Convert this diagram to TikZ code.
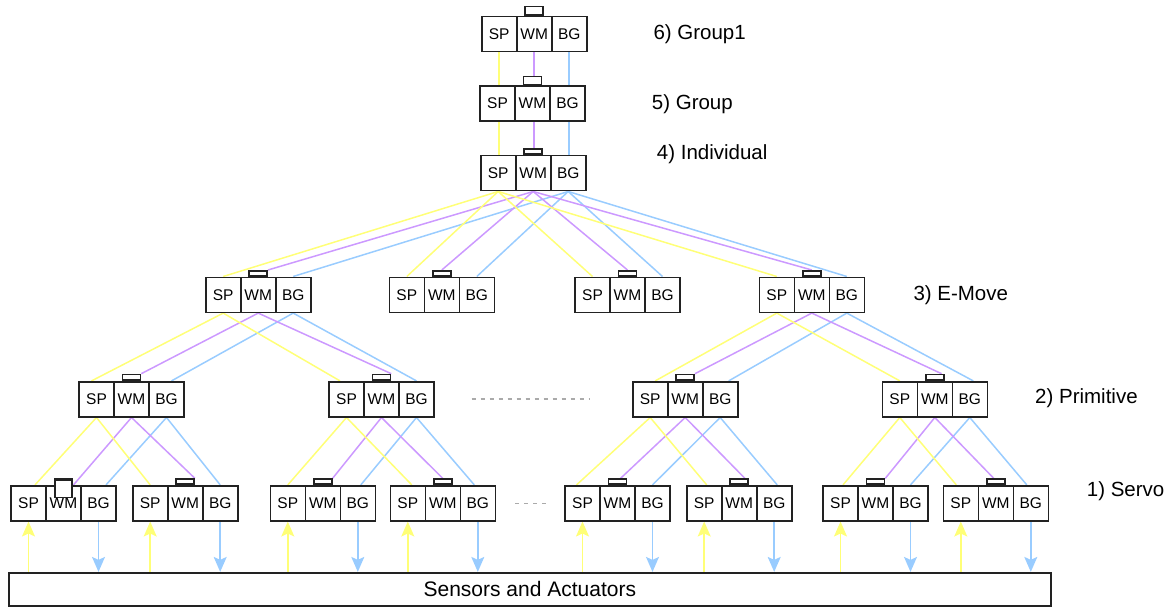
\documentclass[tikz,border=0pt]{standalone}
\usepackage{fontspec}
\setmainfont{Liberation Sans}
\usetikzlibrary{arrows.meta,calc}
\definecolor{spcol}{HTML}{FFFF77}
\definecolor{wmcol}{HTML}{CC99FF}
\definecolor{bgcol}{HTML}{99CCFF}
\definecolor{edgecol}{HTML}{222222}
\definecolor{dotcol}{HTML}{AAAAAA}
\pgfdeclarelayer{wires}
\pgfsetlayers{wires,main}
\tikzset{
  cell/.style={draw=edgecol, fill=white, line width=1.6pt, minimum width=35pt,
    minimum height=35pt, inner sep=0pt, font=\fontsize{15.5}{17}\selectfont},
  tabbox/.style={draw=edgecol, fill=white, line width=1.5pt, minimum width=18pt,
    inner sep=0pt},
  spwire/.style={draw=spcol, line width=1.5pt},
  wmwire/.style={draw=wmcol, line width=1.5pt},
  bgwire/.style={draw=bgcol, line width=1.5pt},
  levellabel/.style={anchor=base west, inner sep=0pt, font=\fontsize{20.5}{23}\selectfont},
  tip/.style={-{Stealth[length=15pt,width=13pt,inset=3pt]}},
  gap/.style={draw=dotcol, line width=1.3pt, dash pattern=on 4pt off 5pt},
}
% one controller: SP | WM | BG cells with a small tab above WM
\newcommand\ctrlbox[4]{%
  \node[cell] (#1-sp) at (#2+17.5,#3+17.5) {SP};
  \node[cell] (#1-wm) at (#2+52.5,#3+17.5) {WM};
  \node[cell] (#1-bg) at (#2+87.5,#3+17.5) {BG};
  \node[tabbox, minimum height=#4pt, anchor=south] (#1-tab) at (#1-wm.north) {};
}
\begin{document}
\begin{tikzpicture}[x=1pt,y=-1pt]
\useasboundingbox (0,0) rectangle (1176,607);

% level 6 .. 4
\ctrlbox{g1}{481.7}{16.7}{8.4}
\ctrlbox{gr}{480}{86}{8}
\ctrlbox{ind}{480.7}{155.7}{5}
% level 3
\ctrlbox{e1}{205.7}{277.3}{5}
\ctrlbox{e2}{389.3}{277.3}{5}
\ctrlbox{e3}{575}{277.3}{5}
\ctrlbox{e4}{759.3}{277.3}{5}
% level 2
\ctrlbox{pa}{79}{381.7}{5.7}
\ctrlbox{pb}{329}{381.7}{5.7}
\ctrlbox{pc}{632.7}{381.7}{5.7}
\ctrlbox{pd}{882.3}{381.7}{5.7}
% level 1
\ctrlbox{s1}{11}{485.7}{5}
\node[tabbox, minimum height=17pt, minimum width=17.3pt, anchor=north] (s1-cap) at ([yshift=5pt]s1-wm.north) {};
\ctrlbox{s2}{132.7}{485.7}{5}
\ctrlbox{s3}{270.3}{485.7}{5}
\ctrlbox{s4}{390.3}{485.7}{5}
\ctrlbox{s5}{565}{485.7}{5}
\ctrlbox{s6}{686.7}{485.7}{5}
\ctrlbox{s7}{823}{485.7}{5}
\ctrlbox{s8}{943.3}{485.7}{5}

% sensors and actuators
\node[draw=edgecol, line width=1.6pt, fill=white, minimum width=1041.7pt, minimum height=33.3pt,
  inner sep=0pt, font=\fontsize{21}{25}\selectfont] (sens) at (529.85,589.35) {Sensors and Actuators};

% level labels
\node[levellabel] (l6) at (653.3,40) {6) Group1};
\node[levellabel] (l5) at (651.7,110) {5) Group};
\node[levellabel] (l4) at (656.7,160) {4) Individual};
\node[levellabel] (l3) at (913.3,300) {3) E-Move};
\node[levellabel] (l2) at (1035,403.3) {2) Primitive};
\node[levellabel] (l1) at (1086.7,496.7) {1) Servo};

% omitted branches
\coordinate (ga) at (471.7,399);
\coordinate (gb) at (590,399);
\coordinate (gc) at (515,503.3);
\coordinate (gd) at (546,503.3);
\draw[gap] (ga) -- (gb);
\draw[gap] (gc) -- (gd);

\begin{pgfonlayer}{wires}
  % group1 -> group -> individual
  \draw[spwire] (g1-sp.south) -- (g1-sp.south |- gr-sp.north);
  \draw[wmwire] (g1-wm.south) -- (g1-wm.south |- gr-tab.north);
  \draw[bgwire] (g1-bg.south) -- (g1-bg.south |- gr-bg.north);
  \draw[spwire] (g1-sp.south |- gr-sp.south) -- (g1-sp.south |- ind-sp.north);
  \draw[wmwire] (g1-wm.south |- gr-wm.south) -- (g1-wm.south |- ind-tab.north);
  \draw[bgwire] (g1-bg.south |- gr-bg.south) -- (g1-bg.south |- ind-bg.north);

  % individual -> e-moves
  \draw[spwire] (ind-sp.south) -- (e1-sp.north);
  \draw[wmwire] (ind-wm.south) -- (e1-tab.north east);
  \draw[bgwire] (ind-bg.south) -- (e1-bg.north);
  \draw[spwire] (ind-sp.south) -- (e2-sp.north);
  \draw[wmwire] (ind-wm.south) -- (e2-tab.north);
  \draw[bgwire] (ind-bg.south) -- (e2-bg.north);
  \draw[spwire] (ind-sp.south) -- (e3-sp.north);
  \draw[wmwire] (ind-wm.south) -- (e3-tab.north);
  \draw[bgwire] (ind-bg.south) -- (e3-bg.north);
  \draw[spwire] (ind-sp.south) -- (e4-sp.north);
  \draw[wmwire] (ind-wm.south) -- (e4-tab.north);
  \draw[bgwire] (ind-bg.south) -- (e4-bg.north);

  % e-moves -> primitives
  \draw[spwire] (e1-sp.south) -- ([xshift=-5pt]pa-sp.north);
  \draw[wmwire] (e1-wm.south) -- (pa-tab.north east);
  \draw[bgwire] (e1-bg.south) -- ([xshift=5pt]pa-bg.north);
  \draw[spwire] (e1-sp.south) -- ([xshift=-6.5pt]pb-sp.north);
  \draw[wmwire] (e1-wm.south) -- (pb-tab.north east);
  \draw[bgwire] (e1-bg.south) -- (pb-bg.north);
  \draw[spwire] (e4-sp.south) -- ([xshift=5pt]pc-sp.north);
  \draw[wmwire] (e4-wm.south) -- (pc-tab.north east);
  \draw[bgwire] (e4-bg.south) -- ([xshift=8.5pt]pc-bg.north);
  \draw[spwire] (e4-sp.south) -- (pd-sp.north);
  \draw[wmwire] (e4-wm.south) -- ([xshift=-3pt]pd-tab.north east);
  \draw[bgwire] (e4-bg.south) -- ([xshift=3.5pt]pd-bg.north);

  % primitives -> servos
  \draw[spwire] (pa-sp.south) -- ([xshift=6.5pt]s1-sp.north);
  \draw[wmwire] (pa-wm.south) -- ([xshift=10pt]s1-wm.north);
  \draw[bgwire] (pa-bg.south) -- ([xshift=7.5pt]s1-bg.north);
  \draw[spwire] (pa-sp.south) -- (s2-sp.north);
  \draw[wmwire] (pa-wm.south) -- (s2-tab.north east);
  \draw[bgwire] (pa-bg.south) -- (s2-bg.north);
  \draw[spwire] (pb-sp.south) -- (s3-sp.north);
  \draw[wmwire] (pb-wm.south) -- (s3-tab.north east);
  \draw[bgwire] (pb-bg.south) -- ([xshift=3pt]s3-bg.north);
  \draw[spwire] (pb-sp.south) -- ([xshift=4pt]s4-sp.north);
  \draw[wmwire] (pb-wm.south) -- (s4-tab.north);
  \draw[bgwire] (pb-bg.south) -- ([xshift=-3.5pt]s4-bg.north);
  \draw[spwire] (pc-sp.south) -- ([xshift=-6pt]s5-sp.north);
  \draw[wmwire] (pc-wm.south) -- ([xshift=3pt]s5-tab.north);
  \draw[bgwire] (pc-bg.south) -- (s5-bg.north);
  \draw[spwire] (pc-sp.south) -- ([xshift=2.5pt]s6-sp.north);
  \draw[wmwire] (pc-wm.south) -- ([xshift=-4pt]s6-tab.north east);
  \draw[bgwire] (pc-bg.south) -- ([xshift=3pt]s6-bg.north);
  \draw[spwire] (pd-sp.south) -- ([xshift=2.5pt]s7-sp.north);
  \draw[wmwire] (pd-wm.south) -- (s7-tab.north east);
  \draw[bgwire] (pd-bg.south) -- (s7-bg.north);
  \draw[spwire] (pd-sp.south) -- ([xshift=-4.5pt]s8-sp.north);
  \draw[wmwire] (pd-wm.south) -- ([xshift=-2pt]s8-tab.north);
  \draw[bgwire] (pd-bg.south) -- ([xshift=-4pt]s8-bg.north);

  % sensor feedback up, commands down
  \foreach \s in {s1,s2,s3,s4,s5,s6,s7,s8}{
    \draw[spwire, tip, fill=spcol] (\s-sp.south |- sens.north) -- (\s-sp.south);
    \draw[bgwire, tip, fill=bgcol] (\s-bg.south) -- (\s-bg.south |- sens.north);
  }
\end{pgfonlayer}
\end{tikzpicture}
\end{document}
